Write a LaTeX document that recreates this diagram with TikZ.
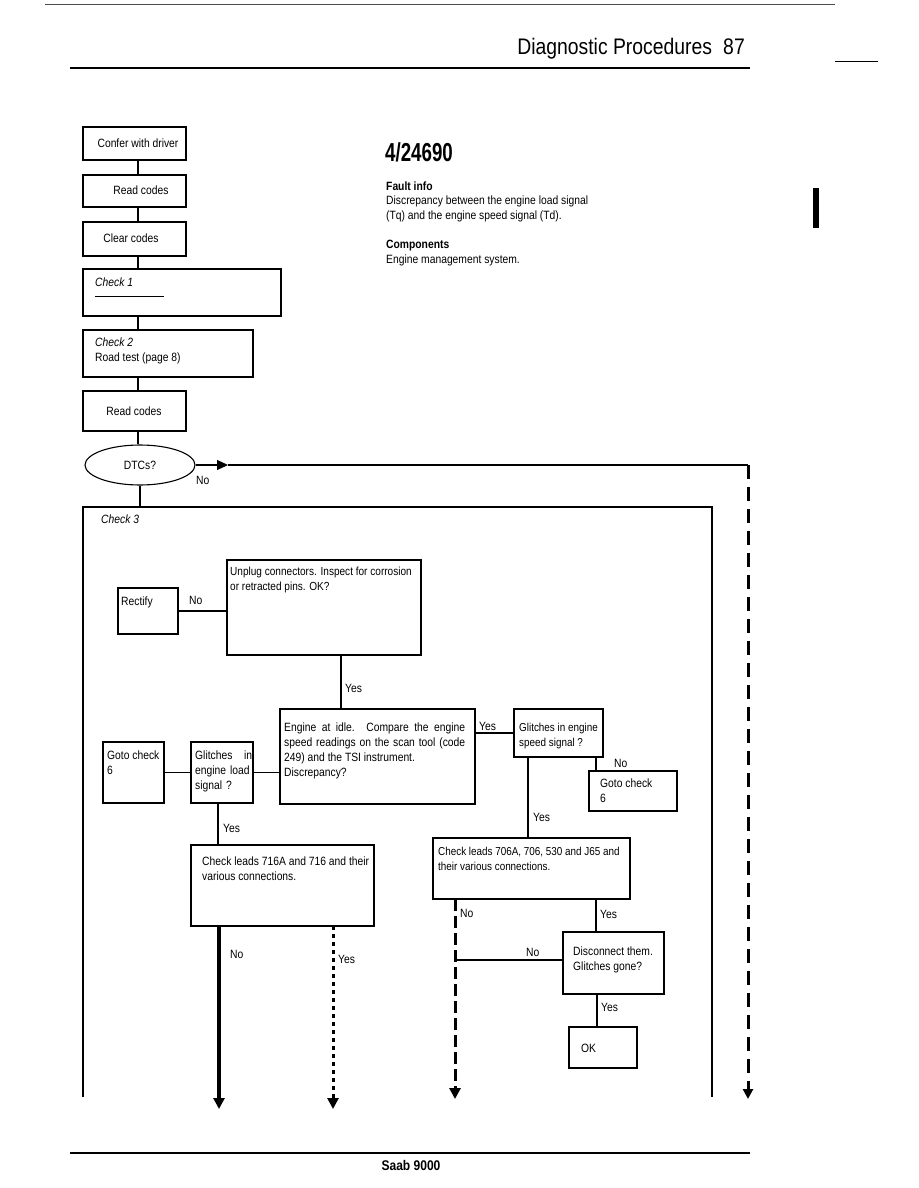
\documentclass[tikz,border=0pt]{standalone}
\usepackage{fontspec}
\setmainfont{Liberation Sans}[FakeStretch=0.86]
\newfontfamily\condfont{Liberation Sans}[FakeStretch=0.72]
\usetikzlibrary{arrows.meta,shapes.geometric}
\newcommand\mkbox[5]{\node[box,minimum width={#4-#2},minimum height={#5-#3}] (#1) at ({(#2+#4)/2},{(#3+#5)/2}) {};}
\begin{document}
\begin{tikzpicture}[x=1pt,y=-1pt,
 box/.style={draw,line width=1.1pt,inner sep=0,outer sep=0},
 txt/.style={inner sep=0,anchor=north west,font=\fontsize{12}{14.7}\selectfont,align=left},
 lbl/.style={inner sep=0,anchor=base west,font=\fontsize{12}{14}\selectfont},
 conn/.style={line width=1.1pt},
 frameline/.style={line width=2.8pt},
 tip/.style={-{Triangle[width=10pt,length=11pt]}},
 rule/.style={line width=1.8pt}
]
\useasboundingbox (0,0) rectangle (918,1188);
% header / footer
\draw[line width=1pt,black!70] (45,5) -- (835,5);
\node[inner sep=0,anchor=base east,font=\fontsize{22.5}{26}\selectfont] (hdr) at (745,55) {Diagnostic Procedures\enspace 87};
\draw[rule] (70,68) -- (750,68);
\draw[line width=1pt] (835,62) -- (878,62);
\fill (813,188) rectangle (819,228);
\draw[rule] (70,1153) -- (750,1153);
\node[inner sep=0,anchor=base,font=\fontsize{14}{16}\selectfont\bfseries] (ftr) at (411,1170) {Saab 9000};
% info block
\node[inner sep=0,anchor=base west,font=\fontsize{26}{30}\condfont\bfseries] (code) at (385,161) {4/24690};
\node[lbl,font=\fontsize{12}{14}\selectfont\bfseries] (fi) at (386,190) {Fault info};
\node[txt,font=\fontsize{12}{14.3}\selectfont] (fit) at (386,196) {Discrepancy between the engine load signal\\(Tq) and the engine speed signal (Td).};
\node[lbl,font=\fontsize{12}{14}\selectfont\bfseries] (co) at (386,248) {Components};
\node[lbl,font=\fontsize{12}{14}\selectfont] (cot) at (386,263) {Engine management system.};
% upper chain
\coordinate (vx) at (138,0);
\mkbox{b1}{83}{127}{186}{160}
\node[lbl,anchor=center] at (138,143) {Confer with driver};
\mkbox{b2}{83}{175}{186}{207}
\node[lbl,anchor=center] at (141,190) {Read codes};
\mkbox{b3}{83}{222}{186}{256}
\node[lbl,anchor=center] at (131,238) {Clear codes};
\mkbox{b4}{83}{269}{281}{316}
\node[lbl,font=\fontsize{12}{14}\selectfont\itshape] at (95,286) {Check 1};
\draw[line width=0.6pt] (95,296) -- (164,296);
\mkbox{b5}{83}{330}{253}{377}
\node[txt] at (95,338) {\itshape Check 2\\Road test (page 8)};
\mkbox{b6}{83}{391}{186}{431}
\node[lbl,anchor=center] at (134,411) {Read codes};
\node[draw,ellipse,conn,minimum width=110,minimum height=40,inner sep=0,font=\fontsize{12}{14}\selectfont] (dtc) at (140,465) {DTCs?};
\draw[conn] (b1.south -| vx) -- (b2.north -| vx);
\draw[conn] (b2.south -| vx) -- (b3.north -| vx);
\draw[conn] (b3.south -| vx) -- (b4.north -| vx);
\draw[conn] (b4.south -| vx) -- (b5.north -| vx);
\draw[conn] (b5.south -| vx) -- (b6.north -| vx);
\draw[conn] (b6.south -| vx) -- (dtc.north -| vx);
\coordinate (ah) at (228,465);
\coordinate (rc) at (748,465);
\coordinate (re) at (748,1099);
\draw[conn,tip] (dtc.east) -- (ah);
\draw[conn] (ah) -- (rc);
\draw[line width=3pt,dash pattern=on 14pt off 8pt,-{Triangle[width=10pt,length=10pt]}] (rc) -- (re);
\node[lbl] at (196,484) {No};
\coordinate (ft) at (140,507);
\draw[conn] (dtc.south) -- (ft);
% check 3 frame
\draw[frameline] (83,1097) -- (83,507) -- (712,507) -- (712,1097);
\node[lbl,font=\fontsize{12}{14}\selectfont\itshape] at (101,523) {Check 3};
% check 3 boxes
\mkbox{rect}{118}{588}{178}{634}
\node[lbl] at (121,605) {Rectify};
\mkbox{unp}{227}{560}{421}{655}
\node[txt,font=\fontsize{11.7}{14.7}\selectfont] at (230,567) {Unplug connectors. Inspect for corrosion\\or retracted pins. OK?};
\draw[conn] (rect.east) -- (rect.east -| unp.west);
\node[lbl] at (189,604) {No};
\mkbox{eng}{280}{709}{475}{804}
\node[txt] at (284,723) {\makebox[181pt][s]{Engine at idle. Compare the engine}\\\makebox[181pt][s]{speed readings on the scan tool (code}\\249) and the TSI instrument.\\Discrepancy?};
\coordinate (x341) at (341,0);
\draw[conn] (unp.south -| x341) -- (eng.north -| x341);
\node[lbl] at (345,692) {Yes};
\mkbox{go1}{103}{742}{164}{803}
\node[txt] at (107,751) {Goto check\\6};
\mkbox{gl}{191}{742}{253}{803}
\node[txt,text width=57] at (195,751) {Glitches\hfill in\\engine load\\signal ?};
\draw[conn] (go1.east) -- (gl.west);
\draw[conn] (gl.east) -- (gl.east -| eng.west);
\mkbox{c716}{191}{845}{374}{926}
\node[txt] at (202,857) {Check leads 716A and 716 and their\\various connections.};
\coordinate (x218) at (218,0);
\draw[conn] (gl.south -| x218) -- (c716.north -| x218);
\node[lbl] at (223,832) {Yes};
\mkbox{gs}{514}{709}{603}{757}
\node[txt,font=\fontsize{11.5}{14.7}\selectfont] at (519,723) {Glitches in engine\\speed signal ?};
\draw[conn] (gs.west -| eng.east) -- (gs.west);
\node[lbl] at (479,730) {Yes};
\mkbox{go2}{589}{771}{677}{811}
\node[txt] at (600,779) {Goto check\\6};
\coordinate (x596) at (596,0);
\draw[conn] (gs.south -| x596) -- (go2.north -| x596);
\node[lbl] at (614,767) {No};
\mkbox{c706}{433}{838}{630}{899}
\node[txt,font=\fontsize{11.5}{14.7}\selectfont] at (438,847) {Check leads 706A, 706, 530 and J65 and\\their various connections.};
\coordinate (x528) at (528,0);
\draw[conn] (gs.south -| x528) -- (c706.north -| x528);
\node[lbl] at (533,821) {Yes};
\mkbox{disc}{563}{932}{664}{994}
\node[txt] at (573,947) {Disconnect them.\\Glitches gone?};
\draw[conn] (c706.south -| x596) -- (disc.north -| x596);
\node[lbl] at (600,918) {Yes};
\mkbox{ok}{569}{1027}{637}{1068}
\node[lbl] at (581,1052) {OK};
\coordinate (x597) at (597,0);
\draw[conn] (disc.south -| x597) -- (ok.north -| x597);
\node[lbl] at (601,1011) {Yes};
% outgoing arrows
\coordinate (x219) at (219,0);
\coordinate (x333) at (333,0);
\coordinate (x455) at (455,0);
\coordinate (e219) at (219,1109);
\coordinate (e333) at (333,1109);
\coordinate (e455) at (455,1099);
\draw[line width=4pt,-{Triangle[width=11pt,length=11pt]}] (c716.south -| x219) -- (e219);
\node[lbl] at (230,958) {No};
\draw[line width=3pt,dash pattern=on 4pt off 4pt,-{Triangle[width=11pt,length=11pt]}] (c716.south -| x333) -- (e333);
\node[lbl] at (338,963) {Yes};
\draw[line width=3pt,dash pattern=on 12pt off 5pt,-{Triangle[width=11pt,length=11pt]}] (c706.south -| x455) -- (e455);
\node[lbl] at (460,917) {No};
\coordinate (j455) at (455,960);
\draw[conn] ([yshift=3]disc.west) -- ([yshift=3]disc.west -| j455);
\node[lbl] at (526,956) {No};
\end{tikzpicture}
\end{document}
